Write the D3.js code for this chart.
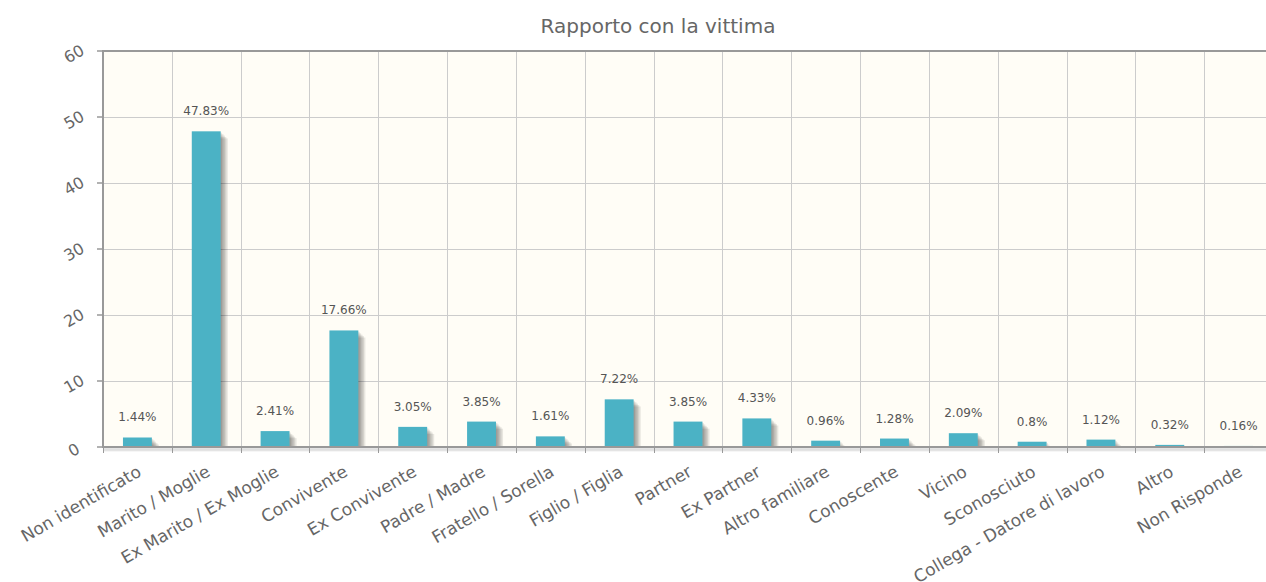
<!DOCTYPE html>
<html>
<head>
<meta charset="utf-8">
<script src="https://cdn.jsdelivr.net/npm/d3@7/dist/d3.min.js"></script>
<style>
  html, body { margin: 0; padding: 0; background: #ffffff; }
  svg { display: block; }
  text { font-family: "DejaVu Sans", "Open Sans", sans-serif; }
</style>
</head>
<body>
<svg id="chart" width="1266" height="582"></svg>
<script>
// Relationship between offender and victim, share of cases (%)
const categories = [
  "Non identificato", "Marito / Moglie", "Ex Marito / Ex Moglie", "Convivente",
  "Ex Convivente", "Padre / Madre", "Fratello / Sorella", "Figlio / Figlia",
  "Partner", "Ex Partner", "Altro familiare", "Conoscente", "Vicino",
  "Sconosciuto", "Collega - Datore di lavoro", "Altro", "Non Risponde"
];
const values = [1.44, 47.83, 2.41, 17.66, 3.05, 3.85, 1.61, 7.22, 3.85, 4.33,
                0.96, 1.28, 2.09, 0.8, 1.12, 0.32, 0.16];
const pointLabels = ["1.44%", "47.83%", "2.41%", "17.66%", "3.05%", "3.85%", "1.61%",
                     "7.22%", "3.85%", "4.33%", "0.96%", "1.28%", "2.09%", "0.8%",
                     "1.12%", "0.32%", "0.16%"];
const yTicks = [0, 10, 20, 30, 40, 50, 60];
const title = "Rapporto con la vittima";

const svg = d3.select("#chart");
const plot = { left: 103, right: 1273, top: 51, bottom: 447 };

const xCat = d3.scaleBand().domain(categories).range([plot.left, plot.right]).padding(0);
const xBar = d3.scaleBand().domain(categories).range([plot.left, plot.right])
  .paddingInner(0.58).paddingOuter(0.29);
const y = d3.scaleLinear().domain([0, 60]).range([plot.bottom, plot.top]);

// plot background
svg.append("rect")
  .attr("x", plot.left).attr("y", plot.top)
  .attr("width", plot.right - plot.left).attr("height", plot.bottom - plot.top)
  .attr("fill", "#fffdf6");

// horizontal grid lines
svg.append("g").selectAll("line").data(yTicks.slice(1, -1)).join("line")
  .attr("x1", plot.left).attr("x2", plot.right)
  .attr("y1", d => y(d) + 0.5).attr("y2", d => y(d) + 0.5)
  .attr("stroke", "#cccccc").attr("stroke-width", 1);

// vertical grid lines at category boundaries
svg.append("g").selectAll("line").data(categories.slice(1)).join("line")
  .attr("x1", d => Math.round(xCat(d)) + 0.5).attr("x2", d => Math.round(xCat(d)) + 0.5)
  .attr("y1", plot.top).attr("y2", plot.bottom)
  .attr("stroke", "#cccccc").attr("stroke-width", 1);

// bar shadows (layered offsets, jqPlot style)
const shadowG = svg.append("g");
for (let j = 1; j <= 5; j++) {
  const off = j * 2 * Math.cos(Math.PI / 4);
  shadowG.append("g").selectAll("rect").data(categories).join("rect")
    .attr("x", d => xBar(d) + off)
    .attr("y", (d, i) => y(values[i]) + off)
    .attr("width", xBar.bandwidth())
    .attr("height", (d, i) => Math.max(0, plot.bottom - y(values[i]) - off + 1))
    .attr("fill", "#000").attr("fill-opacity", 0.09);
}

// bars
svg.append("g").selectAll("rect").data(categories).join("rect")
  .attr("x", d => xBar(d))
  .attr("y", (d, i) => y(values[i]))
  .attr("width", xBar.bandwidth())
  .attr("height", (d, i) => plot.bottom - y(values[i]))
  .attr("fill", "#4bb2c5");

// grid border shadow along the bottom
for (let j = 1; j <= 3; j++) {
  svg.append("line")
    .attr("x1", plot.left).attr("x2", plot.right)
    .attr("y1", plot.bottom + j * 1.2).attr("y2", plot.bottom + j * 1.2)
    .attr("stroke", "#000").attr("stroke-opacity", 0.07).attr("stroke-width", 2);
}

// grid border
svg.append("rect")
  .attr("x", plot.left).attr("y", plot.top)
  .attr("width", plot.right - plot.left).attr("height", plot.bottom - plot.top)
  .attr("fill", "none").attr("stroke", "#999999").attr("stroke-width", 2);

// y axis ticks and rotated labels
const yAxis = svg.append("g");
yAxis.selectAll("line").data(yTicks).join("line")
  .attr("x1", plot.left - 6).attr("x2", plot.left)
  .attr("y1", d => y(d)).attr("y2", d => y(d))
  .attr("stroke", "#999999").attr("stroke-width", 1.5);
yAxis.selectAll("text").data(yTicks).join("text")
  .attr("transform", d => `translate(74,${y(d) + 3}) rotate(-30)`)
  .attr("text-anchor", "middle").attr("dominant-baseline", "central")
  .attr("font-size", 16).attr("fill", "#666666")
  .text(d => d);

// x axis tick marks at category boundaries
svg.append("g").selectAll("line").data(categories).join("line")
  .attr("x1", d => Math.round(xCat(d)) + 0.5).attr("x2", d => Math.round(xCat(d)) + 0.5)
  .attr("y1", plot.bottom).attr("y2", plot.bottom + 6)
  .attr("stroke", "#999999").attr("stroke-width", 1);

// x axis rotated category labels
svg.append("g").selectAll("text").data(categories).join("text")
  .attr("transform", d => `translate(${xCat(d) + xCat.bandwidth() / 2 + 5},475) rotate(-30)`)
  .attr("text-anchor", "end")
  .attr("font-size", 17).attr("fill", "#666666")
  .text(d => d);

// value labels above bars
svg.append("g").selectAll("text").data(categories).join("text")
  .attr("x", d => xBar(d) + xBar.bandwidth() / 2)
  .attr("y", (d, i) => y(values[i]) - 16)
  .attr("text-anchor", "middle")
  .attr("font-size", 12).attr("fill", "#555555")
  .text((d, i) => pointLabels[i]);

// title
svg.append("text")
  .attr("x", 658).attr("y", 33)
  .attr("text-anchor", "middle")
  .attr("font-size", 20).attr("fill", "#666666")
  .text(title);
</script>
</body>
</html>
